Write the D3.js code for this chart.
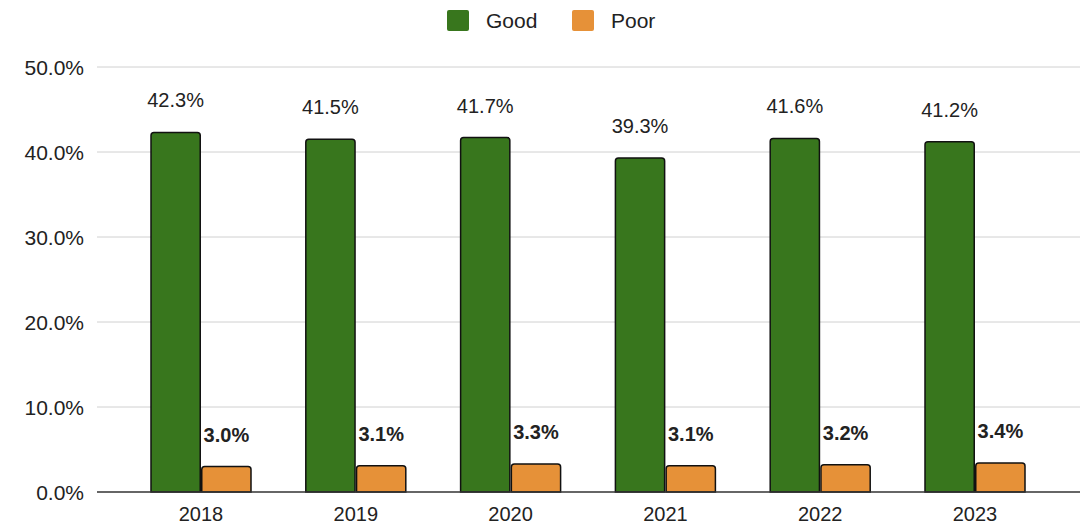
<!DOCTYPE html>
<html>
<head>
<meta charset="utf-8">
<script src="https://cdn.jsdelivr.net/npm/d3@7"></script>
<style>
  body { margin: 0; background: #fff; }
  text { font-family: Arial, "Liberation Sans", sans-serif; }
</style>
</head>
<body>
<div id="container"></div>
<script>
const years = ["2018", "2019", "2020", "2021", "2022", "2023"];
const good = [42.3, 41.5, 41.7, 39.3, 41.6, 41.2];
const poor = [3.0, 3.1, 3.3, 3.1, 3.2, 3.4];
const seriesNames = ["Good", "Poor"];
const seriesColors = ["#38761d", "#e69138"];
const yTicks = [0, 10, 20, 30, 40, 50];

const W = 1086, H = 527;

let viz = d3.select("#container")
  .append("svg")
    .attr("width", W)
    .attr("height", H);

let y = d3.scaleLinear().domain([0, 50]).range([492, 67]);
let x = d3.scaleBand().domain(years).range([123.6, 1052.4])
    .paddingInner(0.354).paddingOuter(0.177);
let xs = d3.scaleBand().domain(seriesNames).range([0, x.bandwidth()]).paddingInner(0.03);

// grid
viz.append("g")
  .selectAll("line")
  .data(yTicks.filter(d => d > 0))
  .join("line")
    .attr("x1", 97)
    .attr("x2", 1080)
    .attr("y1", d => y(d))
    .attr("y2", d => y(d))
    .attr("stroke", "#d0d0d0")
    .attr("stroke-width", 1);

// y labels
viz.append("g")
  .selectAll("text")
  .data(yTicks)
  .join("text")
    .text(d => d.toFixed(1) + "%")
    .attr("x", 84)
    .attr("y", d => y(d) + 8)
    .attr("text-anchor", "end")
    .attr("font-size", 21)
    .attr("fill", "#222");

// bars
function barPath(x0, w, top, base, r) {
  return `M${x0},${base}V${top + r}Q${x0},${top} ${x0 + r},${top}H${x0 + w - r}Q${x0 + w},${top} ${x0 + w},${top + r}V${base}Z`;
}

const series = [good, poor];
series.forEach((vals, si) => {
  let g = viz.append("g");
  g.selectAll("path")
    .data(years)
    .join("path")
      .attr("d", (d, i) => barPath(x(d) + xs(seriesNames[si]), xs.bandwidth(), y(vals[i]), y(0), 3))
      .attr("fill", seriesColors[si])
      .attr("stroke", "#111")
      .attr("stroke-width", 1.5);
  g.selectAll("text")
    .data(years)
    .join("text")
      .text((d, i) => vals[i].toFixed(1) + "%")
      .attr("x", d => x(d) + xs(seriesNames[si]) + xs.bandwidth() / 2)
      .attr("y", (d, i) => y(vals[i]) - 25)
      .attr("text-anchor", "middle")
      .attr("font-size", 20)
      .attr("font-weight", si === 1 ? "bold" : "normal")
      .attr("fill", "#222");
});

// baseline
viz.append("line")
  .attr("x1", 97)
  .attr("x2", 1080)
  .attr("y1", y(0))
  .attr("y2", y(0))
  .attr("stroke", "#333")
  .attr("stroke-width", 1.5);

// x labels
viz.append("g")
  .selectAll("text")
  .data(years)
  .join("text")
    .text(d => d)
    .attr("x", d => x(d) + x.bandwidth() / 2)
    .attr("y", 521)
    .attr("text-anchor", "middle")
    .attr("font-size", 20)
    .attr("fill", "#222");

// legend
const legendX = [447, 572];
let lg = viz.append("g");
lg.selectAll("rect")
  .data(seriesNames)
  .join("rect")
    .attr("x", (d, i) => legendX[i])
    .attr("y", 10)
    .attr("width", 22)
    .attr("height", 21)
    .attr("rx", 2)
    .attr("fill", (d, i) => seriesColors[i]);
lg.selectAll("text")
  .data(seriesNames)
  .join("text")
    .text(d => d)
    .attr("x", (d, i) => legendX[i] + 39)
    .attr("y", 28)
    .attr("font-size", 21)
    .attr("fill", "#222");
</script>
</body>
</html>
